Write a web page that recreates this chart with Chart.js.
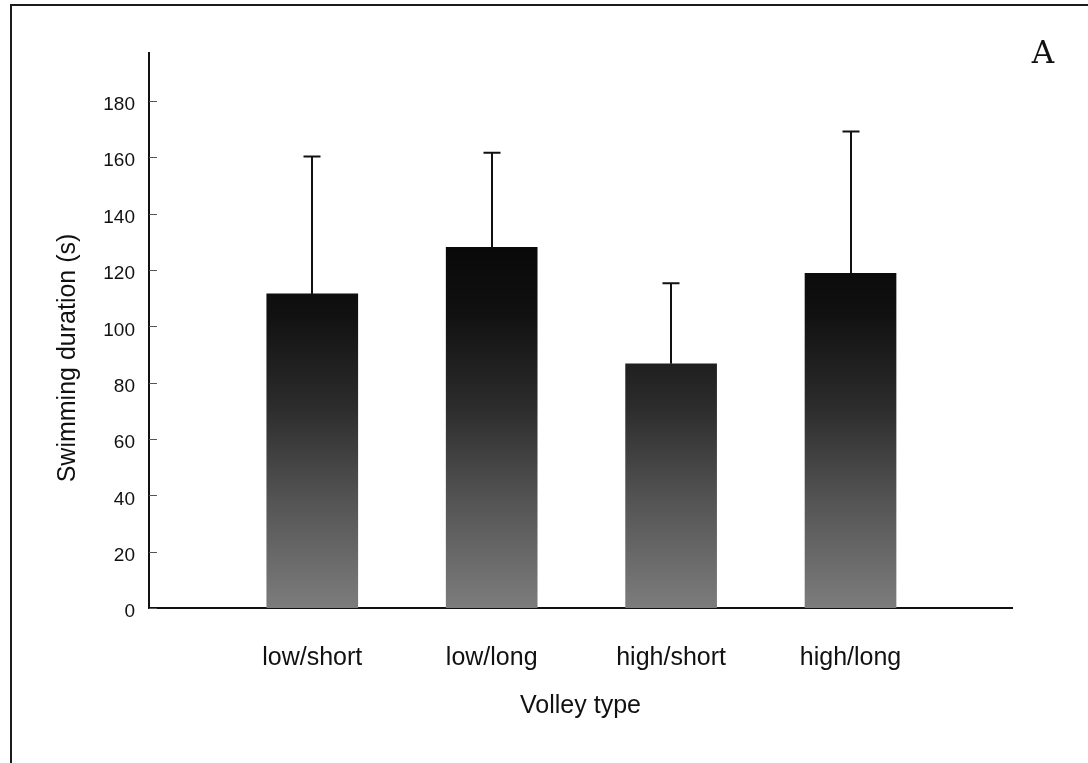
<!DOCTYPE html>
<html>
<head>
<meta charset="utf-8">
<script src="https://cdn.jsdelivr.net/npm/chart.js@4/dist/chart.umd.min.js"></script>
<style>
  html, body { margin:0; padding:0; background:#fff; }
  #frame { position:absolute; left:10px; top:4px; width:1078px; height:758px;
           border-left:2px solid #1c1c1c; border-top:2px solid #1c1c1c; border-bottom:1px solid #d8d8d8; }
  #wrap { position:absolute; left:0; top:0; width:1088px; height:763px; }
</style>
</head>
<body>
<div id="frame"></div>
<div id="wrap"><canvas id="chartSwim" width="1088" height="763"></canvas></div>
<script>
const categories = ["low/short", "low/long", "high/short", "high/long"];
const means = [111.5, 128.0, 86.7, 118.8];
const errUp = [48.8, 33.6, 28.6, 50.3];
const yTicks = [0, 20, 40, 60, 80, 100, 120, 140, 160, 180];
const panelLabel = "A";
const xTitle = "Volley type";
const yTitle = "Swimming duration (s)";

const sans = "'Liberation Sans', Arial, sans-serif";

// shade of the bars: darker towards the top of the axis
function barFill(ctx) {
  const chart = ctx.chart;
  if (!chart.chartArea) return "#333";
  const y = chart.scales.y;
  const g = chart.ctx.createLinearGradient(0, y.getPixelForValue(0), 0, y.getPixelForValue(130));
  g.addColorStop(0, "#7c7c7c");
  g.addColorStop(0.3, "#535353");
  g.addColorStop(0.55, "#2c2c2c");
  g.addColorStop(0.8, "#111");
  g.addColorStop(1, "#080808");
  return g;
}

const extras = {
  id: "extras",
  afterDatasetsDraw(chart) {
    const c = chart.ctx, x = chart.scales.x, y = chart.scales.y;
    c.save();
    // error bars (upper only)
    c.strokeStyle = "#111";
    c.lineWidth = 2;
    means.forEach((m, i) => {
      const px = Math.round(x.getPixelForValue(i));
      const top = y.getPixelForValue(m + errUp[i]);
      c.beginPath();
      c.moveTo(px, y.getPixelForValue(m));
      c.lineTo(px, top);
      c.moveTo(px - 8.5, top);
      c.lineTo(px + 8.5, top);
      c.stroke();
    });
    // small inward tick marks on the y axis
    c.lineWidth = 1;
    c.strokeStyle = "#555";
    yTicks.forEach(v => {
      const py = Math.round(y.getPixelForValue(v)) + 0.5;
      c.beginPath();
      c.moveTo(chart.chartArea.left, py);
      c.lineTo(chart.chartArea.left + 8, py);
      c.stroke();
    });
    // y title
    c.fillStyle = "#111";
    c.font = "25px " + sans;
    c.textAlign = "center";
    c.textBaseline = "middle";
    c.translate(68, 358);
    c.rotate(-Math.PI / 2);
    c.fillText(yTitle, 0, 0);
    c.restore();
    // panel letter
    c.save();
    c.fillStyle = "#111";
    c.font = "31px 'DejaVu Serif', serif";
    c.textAlign = "center";
    c.textBaseline = "middle";
    c.fillText(panelLabel, 1043, 55);
    c.restore();
  }
};

new Chart(chartSwim, {
  type: "bar",
  data: {
    datasets: [{
      data: categories.map((c, i) => ({ x: i, y: means[i] })),
      backgroundColor: barFill,
      borderWidth: 0,
      barThickness: 91
    }]
  },
  options: {
    responsive: false,
    animation: false,
    layout: { padding: { left: 0, right: 76, top: 53, bottom: 0 } },
    plugins: { legend: { display: false }, tooltip: { enabled: false } },
    scales: {
      x: {
        type: "linear",
        offset: false,
        min: -0.91,
        max: 3.9,
        afterBuildTicks: s => { s.ticks = categories.map((c, i) => ({ value: i })); },
        afterFit: s => { s.height = 155; },
        grid: { display: false, drawTicks: false, offset: false },
        border: { display: true, color: "#111", width: 2 },
        ticks: {
          callback: v => categories[v],
          font: { family: sans, size: 25 },
          color: "#111",
          padding: 35,
          maxRotation: 0,
          autoSkip: false
        },
        title: {
          display: true,
          text: xTitle,
          font: { family: sans, size: 25 },
          color: "#111",
          padding: { top: 42, bottom: 42 }
        }
      },
      y: {
        min: 0,
        max: 197,
        afterBuildTicks: s => { s.ticks = yTicks.map(v => ({ value: v })); },
        afterFit: s => { s.width = 149; },
        grid: { display: false, drawTicks: false },
        border: { display: true, color: "#111", width: 2 },
        ticks: {
          font: { family: sans, size: 19 },
          color: "#111",
          padding: 14,
          labelOffset: 4
        }
      }
    }
  },
  plugins: [extras]
});
</script>
</body>
</html>
